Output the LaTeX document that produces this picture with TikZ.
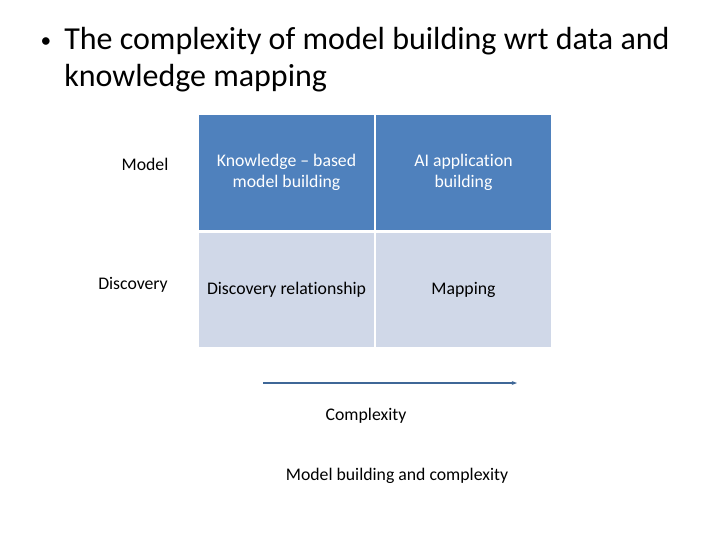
\documentclass[tikz,border=0pt]{standalone}
\usepackage{fontspec}
\setmainfont[Ligatures={NoCommon,NoContextual}]{Carlito}
\usetikzlibrary{arrows.meta}
\definecolor{darkcell}{RGB}{79,129,189}
\definecolor{lightcell}{RGB}{208,216,232}
\tikzset{
  celltext/.style={align=center, font=\fontsize{13.3}{15.5}\selectfont},
  sidetext/.style={font=\fontsize{13.3}{15.5}\selectfont},
}
\begin{document}
\begin{tikzpicture}[x=0.75pt,y=0.75pt,yscale=-1,xscale=1]
        \useasboundingbox (0,0) rectangle (720,540);
        
        % Title
        \node (dot) at (46,43) {\fontsize{16}{20}\selectfont •};
        \node (title) [anchor=north west, inner sep=0pt, align=left, font=\fontsize{24}{28}\selectfont] at (64,27) {The complexity of model building wrt data and\\knowledge mapping};
        
        % Cells
        \fill [darkcell]  (199,115) rectangle (374,230);
        \fill [darkcell]  (376,115) rectangle (551,230);
        \fill [lightcell] (199,233) rectangle (374,347);
        \fill [lightcell] (376,233) rectangle (551,347);
        
        \node (kb) [celltext, text=white] at (286.5,172.5) {Knowledge -- based\\model building};
        \node (ai) [celltext, text=white] at (463.5,172.5) {AI application\\building};
        \node (dr) [celltext] at (286.5,290) {Discovery relationship};
        \node (mp) [celltext] at (463.5,290) {Mapping};
        
        % Row labels
        \node (model) [sidetext] at (145,164) {Model};
        \node (disc) [sidetext] at (133,285) {Discovery};
        
        % Axis
        \coordinate (ax0) at (263,383);
        \coordinate (ax1) at (517,383);
        \draw [darkcell!80!black, line width=1.2, -{Stealth[length=4pt,width=3pt]}] (ax0) -- (ax1);
        \node (cx) [sidetext] at (366,416) {Complexity};
        \node (cap) [sidetext] at (397,476) {Model building and complexity};
        
\end{tikzpicture}
\end{document}
